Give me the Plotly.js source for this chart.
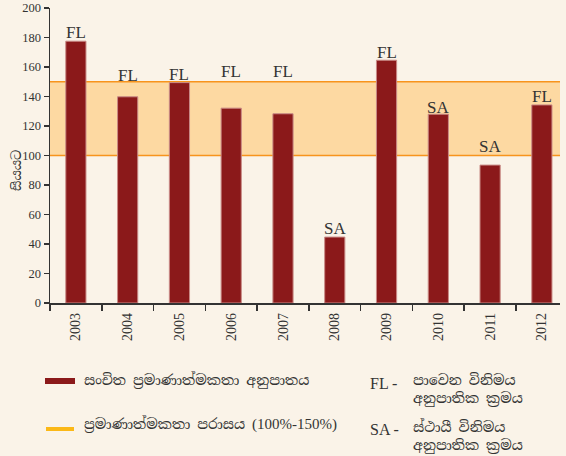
<!DOCTYPE html>
<html>
<head>
<meta charset="utf-8">
<script src="https://cdn.plot.ly/plotly-3.0.1.min.js"></script>
<style>
html,body{margin:0;padding:0;background:#faf3e8;}
#chart{width:566px;height:456px;}
</style>
</head>
<body>
<div id="chart"></div>
<script>
const years = ['2003','2004','2005','2006','2007','2008','2009','2010','2011','2012'];
const ratios = [177.5, 139.8, 149.4, 132.1, 128.3, 44.7, 164.6, 128.0, 93.5, 134.3];
const regimes = ['FL','FL','FL','FL','FL','SA','FL','SA','SA','FL'];
// vertical level (in chart units) at which each regime label sits
const labelLevels = [183.5, 154.5, 155.0, 156.7, 156.7, 50.3, 170.0, 132.7, 105.9, 139.8];
const bandLow = 100;
const bandHigh = 150;
const yTicks = [0,20,40,60,80,100,120,140,160,180,200];

const serif = '"Liberation Serif", "Times New Roman", serif';
const sinhala = '"Noto Serif Sinhala", "Noto Sans Sinhala", "Iskoola Pota", "Liberation Serif", serif';
const textCol = '#333333';

const trace = {
  type: 'bar',
  x: years,
  y: ratios,
  marker: {color: '#8b191a', line: {color: '#c98a86', width: 1}},
  width: 0.39,
  hoverinfo: 'x+y',
  showlegend: false
};

const px = v => (v - 50) / 510;
const py = v => (303 - v) / 295;

// category axis: annotation x given as category index
const annotations = years.map((yr, i) => ({
  xref: 'x', yref: 'y', x: i, y: labelLevels[i], text: regimes[i],
  showarrow: false, xanchor: 'center', yanchor: 'middle',
  font: {family: serif, size: 17, color: textCol}
}));

annotations.push(
  {xref: 'paper', yref: 'paper', x: px(17), y: py(171), xanchor: 'center', yanchor: 'middle', textangle: -90,
   text: 'සියයට', showarrow: false, font: {family: sinhala, size: 13, color: textCol}},
  {xref: 'paper', yref: 'paper', x: px(82), y: py(380), xanchor: 'left', yanchor: 'middle',
   text: 'සංචිත ප්‍රමාණාත්මකතා අනුපාතය', showarrow: false, font: {family: sinhala, size: 14, color: textCol}},
  {xref: 'paper', yref: 'paper', x: px(82), y: py(424), xanchor: 'left', yanchor: 'middle',
   text: 'ප්‍රමාණාත්මකතා පරාසය <span style="font-family:Liberation Serif;font-size:15px">(100%-150%)</span>', showarrow: false, font: {family: sinhala, size: 14, color: textCol}},
  {xref: 'paper', yref: 'paper', x: px(368), y: py(383), xanchor: 'left', yanchor: 'middle',
   text: 'FL -', showarrow: false, font: {family: serif, size: 16, color: textCol}},
  {xref: 'paper', yref: 'paper', x: px(411), y: py(389), xanchor: 'left', yanchor: 'middle', align: 'left',
   text: 'පාවෙන විනිමය<br>අනුපාතික ක්‍රමය', showarrow: false, font: {family: sinhala, size: 14, color: textCol}},
  {xref: 'paper', yref: 'paper', x: px(368), y: py(429), xanchor: 'left', yanchor: 'middle',
   text: 'SA -', showarrow: false, font: {family: serif, size: 16, color: textCol}},
  {xref: 'paper', yref: 'paper', x: px(411), y: py(436), xanchor: 'left', yanchor: 'middle', align: 'left',
   text: 'ස්ථායී විනිමය<br>අනුපාතික ක්‍රමය', showarrow: false, font: {family: sinhala, size: 14, color: textCol}}
);

const layout = {
  width: 566, height: 456,
  paper_bgcolor: '#faf3e8',
  plot_bgcolor: '#faf3e8',
  margin: {l: 50, r: 6, t: 8, b: 153},
  showlegend: false,
  xaxis: {
    type: 'category',
    range: [-0.5, 9.35],
    showgrid: false,
    zeroline: false,
    showline: true, linecolor: '#333', linewidth: 1.5,
    ticks: 'outside', ticklen: 6, tickcolor: '#333', tickwidth: 1.5,
    tickson: 'boundaries',
    tickangle: -90,
    ticklabelstandoff: 3,
    tickfont: {family: serif, size: 14, color: textCol}
  },
  yaxis: {
    range: [0, 200],
    tickvals: yTicks,
    showgrid: false,
    zeroline: false,
    showline: true, linecolor: '#333', linewidth: 1.5,
    ticks: 'outside', ticklen: 5, tickcolor: '#333', tickwidth: 1.5,
    tickfont: {family: serif, size: 12.5, color: textCol}
  },
  shapes: [
    {type: 'rect', xref: 'paper', yref: 'y', x0: 0, x1: 1, y0: bandLow, y1: bandHigh,
     fillcolor: '#fdd9a2', line: {width: 0}, layer: 'below'},
    {type: 'line', xref: 'paper', yref: 'y', x0: 0, x1: 1, y0: bandLow, y1: bandLow,
     line: {color: '#f7941d', width: 1.5}, layer: 'below'},
    {type: 'line', xref: 'paper', yref: 'y', x0: 0, x1: 1, y0: bandHigh, y1: bandHigh,
     line: {color: '#f7941d', width: 1.5}, layer: 'below'},
    {type: 'rect', xref: 'paper', yref: 'paper', x0: px(45), x1: px(75),
     y0: py(384), y1: py(378), fillcolor: '#8b191a', line: {width: 0}},
    {type: 'line', xref: 'paper', yref: 'paper', x0: px(46), x1: px(74),
     y0: py(429), y1: py(429), line: {color: '#fbb817', width: 4}}
  ],
  annotations: annotations
};

Plotly.newPlot('chart', [trace], layout, {displayModeBar: false, staticPlot: true});
</script>
</body>
</html>
